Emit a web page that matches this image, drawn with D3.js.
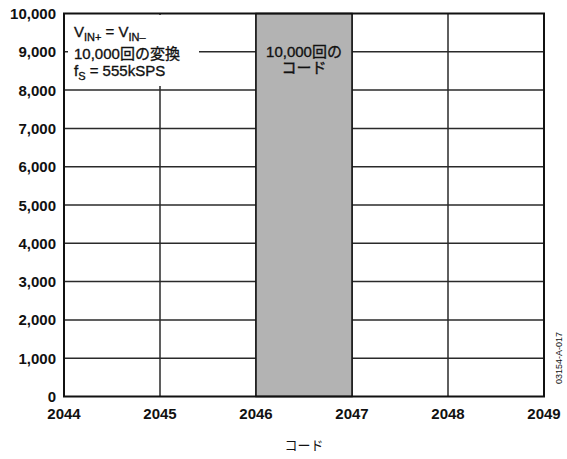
<!DOCTYPE html>
<html>
<head>
<meta charset="utf-8">
<script src="https://cdn.jsdelivr.net/npm/d3@7"></script>
<style>
  html, body { margin: 0; padding: 0; background: #fff; }
  svg { display: block; }
  text { font-family: "Liberation Sans", Arial, "Noto Sans CJK JP", sans-serif; fill: #111; }
</style>
</head>
<body>
<svg id="chart" width="567" height="459"></svg>
<script>
// Histogram of output codes: 10,000 conversions with shorted inputs
const codes = [2044, 2045, 2046, 2047, 2048];
const counts = [0, 0, 10000, 0, 0];
const xTicks = [2044, 2045, 2046, 2047, 2048, 2049];
const yTicks = [0, 1000, 2000, 3000, 4000, 5000, 6000, 7000, 8000, 9000, 10000];
const xTitle = "コード";
const barLabel = ["10,000回の", "コード"];
const figureId = "03154-A-017";

const svg = d3.select("#chart");
const plot = { left: 64, right: 544, top: 13.5, bottom: 396.5 };

const x = d3.scaleLinear().domain([2044, 2049]).range([plot.left, plot.right]);
const y = d3.scaleLinear().domain([0, 10000]).range([plot.bottom, plot.top]);
const fmt = d3.format(",");

// grid lines
const grid = svg.append("g").attr("stroke", "#2a2a2a").attr("stroke-width", 1.5);
grid.selectAll("line.h").data(yTicks.slice(1, -1)).join("line")
  .attr("x1", plot.left).attr("x2", plot.right)
  .attr("y1", d => y(d)).attr("y2", d => y(d));
grid.selectAll("line.v").data(xTicks.slice(1, -1)).join("line")
  .attr("x1", d => x(d)).attr("x2", d => x(d))
  .attr("y1", plot.top).attr("y2", plot.bottom);

// histogram bars
const bars = codes.map((c, i) => ({ code: c, count: counts[i] })).filter(d => d.count > 0);
svg.append("g").selectAll("rect").data(bars).join("rect")
  .attr("x", d => x(d.code))
  .attr("width", d => x(d.code + 1) - x(d.code))
  .attr("y", d => y(d.count))
  .attr("height", d => y(0) - y(d.count))
  .attr("fill", "#b3b3b3")
  .attr("stroke", "#111").attr("stroke-width", 1.5);

// legend panel (hides the grid beneath it)
svg.append("rect").attr("x", 68).attr("y", 15).attr("width", 131).attr("height", 71).attr("fill", "#fff");

// plot frame
svg.append("rect").attr("x", plot.left).attr("y", plot.top)
  .attr("width", plot.right - plot.left).attr("height", plot.bottom - plot.top)
  .attr("fill", "none").attr("stroke", "#111").attr("stroke-width", 2);

// y axis labels
svg.append("g").selectAll("text").data(yTicks).join("text")
  .attr("x", 56).attr("y", d => y(d) + 5.5)
  .attr("text-anchor", "end")
  .attr("font-size", 15).attr("font-weight", "bold")
  .text(d => fmt(d));

// x axis labels
svg.append("g").selectAll("text").data(xTicks).join("text")
  .attr("x", d => x(d)).attr("y", 419)
  .attr("text-anchor", "middle")
  .attr("font-size", 15).attr("font-weight", "bold")
  .text(d => d);

// x axis title
svg.append("text").attr("x", (plot.left + plot.right) / 2).attr("y", 450)
  .attr("text-anchor", "middle").attr("font-size", 13)
  .text(xTitle);

// bar annotation
const bx = x(bars[0].code) + (x(bars[0].code + 1) - x(bars[0].code)) / 2;
svg.append("g").attr("stroke", "#111").attr("stroke-width", 0.35)
  .selectAll("text").data(barLabel).join("text")
  .attr("x", bx).attr("y", (d, i) => 57 + i * 16)
  .attr("text-anchor", "middle").attr("font-size", 15)
  .text(d => d);

// legend text
const lg = svg.append("g").attr("font-size", 15).attr("stroke", "#111").attr("stroke-width", 0.35);
const l1 = lg.append("text").attr("x", 74).attr("y", 37);
l1.append("tspan").text("V");
l1.append("tspan").attr("dy", 4).attr("font-size", 11).text("IN+");
l1.append("tspan").attr("dy", -4).text(" = V");
l1.append("tspan").attr("dy", 4).attr("font-size", 11).text("IN–");
lg.append("text").attr("x", 74).attr("y", 59).text("10,000回の変換");
const l3 = lg.append("text").attr("x", 74).attr("y", 75.5);
l3.append("tspan").text("f");
l3.append("tspan").attr("dy", 4).attr("font-size", 11).text("S");
l3.append("tspan").attr("dy", -4).text(" = 555kSPS");

// figure id, rotated
svg.append("text")
  .attr("transform", "translate(562,358) rotate(-90)")
  .attr("text-anchor", "middle").attr("font-size", 9)
  .text(figureId);
</script>
</body>
</html>
